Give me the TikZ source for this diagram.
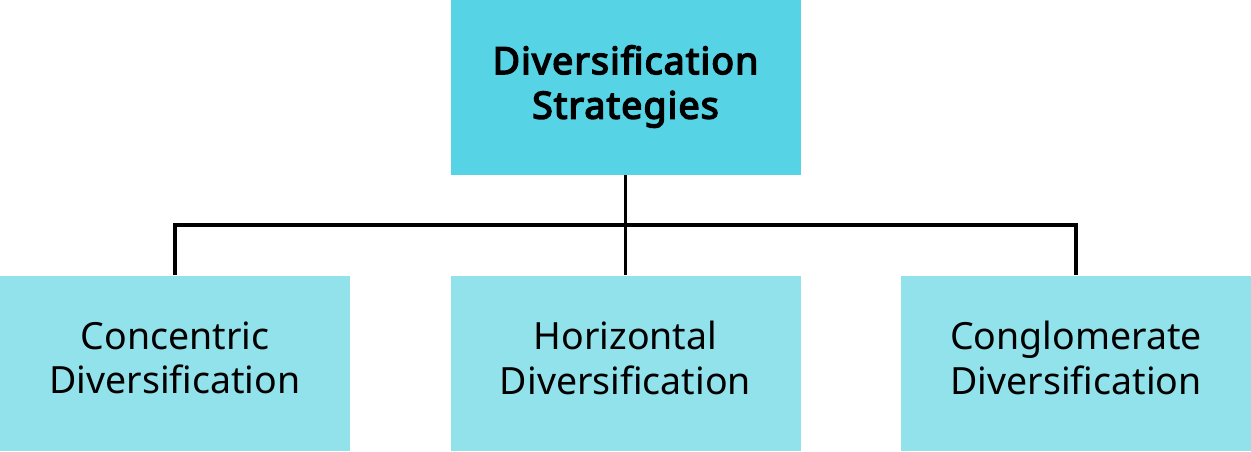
\documentclass[tikz,border=0pt]{standalone}
\usepackage{fontspec}
\setmainfont{Noto Sans}
\newfontfamily\boldnoto{Noto Sans}[FakeBold=4,LetterSpace=3]
\definecolor{topc}{RGB}{87,211,230}
\definecolor{botc}{RGB}{146,226,236}
\begin{document}
\begin{tikzpicture}[x=1pt,y=-1pt,
  box/.style={minimum width=350pt,minimum height=175pt,inner sep=0pt},
  lbl/.style={inner sep=0pt,align=center,font=\fontsize{37.5}{44.5}\selectfont,text=black},
  conn/.style={line width=3.8pt,black}]
\useasboundingbox (0,0) rectangle (1251,451);
\node[box,fill=topc] (top) at (625.5,87.5) {};
\node[box,fill=botc] (b1) at (175,363) {};
\node[box,fill=botc] (b2) at (625.5,363) {};
\node[box,fill=botc] (b3) at (1076,363) {};
\node[lbl,font=\boldnoto\fontsize{37.5}{44.5}\selectfont] (t0) at ([yshift=1pt]top.center) {Diversification\\Strategies};
\node[lbl] (t1) at ([yshift=5pt]b1.center) {Concentric\\Diversification};
\node[lbl] (t2) at ([yshift=5pt]b2.center) {Horizontal\\Diversification};
\node[lbl] (t3) at ([yshift=5pt]b3.center) {Conglomerate\\Diversification};
\coordinate (mid) at (625.5,225);
\draw[conn] (top.south) -- (b2.north);
\draw[conn] (b1.north) |- (mid) -| (b3.north);
\end{tikzpicture}
\end{document}
